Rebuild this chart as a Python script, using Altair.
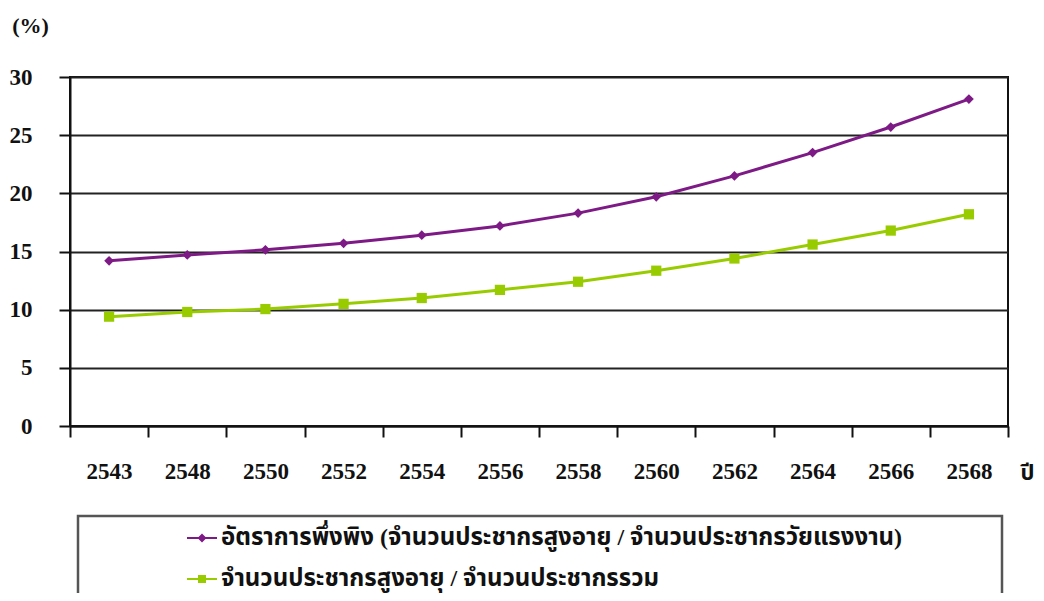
import altair as alt
import pandas as pd

years = ["2543", "2548", "2550", "2552", "2554", "2556", "2558", "2560", "2562", "2564", "2566", "2568"]
dependency_ratio = [14.2, 14.7, 15.15, 15.7, 16.4, 17.2, 18.3, 19.7, 21.5, 23.5, 25.7, 28.1]
elderly_share = [9.4, 9.8, 10.05, 10.5, 11.0, 11.7, 12.4, 13.35, 14.4, 15.6, 16.8, 18.2]

series_names = [
    "อัตราการพึ่งพิง (จำนวนประชากรสูงอายุ / จำนวนประชากรวัยแรงงาน)",
    "จำนวนประชากรสูงอายุ / จำนวนประชากรรวม",
]
series_colors = ["#7E1A86", "#99CC00"]
point_shapes = ["diamond", "square"]
point_sizes = [95, 105]
legend_shapes = [
    "M-1.5,-0.11H1.5V0.11H-1.5Z M0,-0.45L0.45,0L0,0.45L-0.45,0Z",
    "M-1.5,-0.11H1.5V0.11H-1.5Z M-0.4,-0.4H0.4V0.4H-0.4Z",
]

rows = []
for y, a, b in zip(years, dependency_ratio, elderly_share):
    rows.append({"year": y, "series": series_names[0], "value": a})
    rows.append({"year": y, "series": series_names[1], "value": b})
df = pd.DataFrame(rows)

FONT = "Liberation Serif, Noto Sans Thai, Noto Serif Thai, Garuda, Loma, sans-serif"

x_enc = alt.X(
    "year:N",
    sort=years,
    scale=alt.Scale(paddingInner=0, paddingOuter=0),
    axis=alt.Axis(
        title="ปี",
        titleX=957,
        titleY=46,
        titleAlign="center",
        titleBaseline="middle",
        titleFontSize=22,
        titleFont=FONT,
        titleFontWeight="bold",
        titleColor="#111",
        labelAngle=0,
        labelFontSize=23,
        labelFont=FONT,
        labelFontWeight="bold",
        labelColor="#111",
        labelPadding=23,
        labelBaseline="top",
        tickBand="extent",
        tickSize=11,
        tickColor="#111",
        tickWidth=2,
        domainColor="#111",
        domainWidth=2,
        grid=False,
    ),
)
y_enc = alt.Y(
    "value:Q",
    scale=alt.Scale(domain=[0, 30], nice=False),
    axis=alt.Axis(
        title="(%)",
        titleAngle=0,
        titleX=-40,
        titleY=-52,
        titleAlign="center",
        titleBaseline="middle",
        titleFontSize=22,
        titleFont=FONT,
        titleFontWeight="bold",
        titleColor="#111",
        values=[0, 5, 10, 15, 20, 25, 30],
        labelFontSize=23,
        labelFont=FONT,
        labelFontWeight="bold",
        labelColor="#111",
        labelAlign="right",
        labelPadding=27,
        tickSize=11,
        tickColor="#111",
        tickWidth=2,
        domainColor="#111",
        domainWidth=2,
        grid=True,
        gridColor="#222",
        gridWidth=2,
    ),
)

base = alt.Chart(df)

series_layers = []
for name, col, shp, sz in zip(series_names, series_colors, point_shapes, point_sizes):
    sub = base.transform_filter(alt.datum.series == name)
    series_layers.append(
        sub.mark_line(strokeWidth=3, color=col).encode(x=x_enc, y=y_enc)
    )
    series_layers.append(
        sub.mark_point(filled=True, opacity=1, shape=shp, size=sz, color=col).encode(
            x=x_enc, y=y_enc
        )
    )

legend_props = dict(
    title=None,
    orient="none",
    legendX=120,
    legendY=449,
    labelFontSize=24,
    labelFont=FONT,
    labelFontWeight="bold",
    labelColor="#111",
    labelLimit=0,
    labelOffset=7,
    rowPadding=17,
    symbolSize=400,
    symbolOpacity=1,
    symbolStrokeWidth=0,
    padding=0,
)

legend_layer = base.mark_point(filled=True, opacity=0).encode(
    x=x_enc,
    y=y_enc,
    color=alt.Color(
        "series:N",
        scale=alt.Scale(domain=series_names, range=series_colors),
        sort=series_names,
        legend=alt.Legend(**legend_props),
    ),
    shape=alt.Shape(
        "series:N",
        scale=alt.Scale(domain=series_names, range=legend_shapes),
        sort=series_names,
        legend=alt.Legend(**legend_props),
    ),
)

box = alt.Chart(alt.Data(values=[{}])).mark_rect(
    fill="transparent", stroke="#555", strokeWidth=2.5
).encode(
    x=alt.value(8), x2=alt.value(932), y=alt.value(439), y2=alt.value(560)
)

top_rule = alt.Chart(alt.Data(values=[{}])).mark_rule(
    stroke="#bbb", strokeWidth=2
).encode(
    x=alt.value(-70), x2=alt.value(980), y=alt.value(-76)
)

chart = (
    alt.layer(box, top_rule, *series_layers, legend_layer)
    .properties(
        width=938,
        height=349,
        autosize=alt.AutoSizeParams(type="none"),
        padding={"left": 62, "top": 69, "right": 28, "bottom": 167},
        background="white",
    )
    .configure_view(stroke="#111", strokeWidth=2)
)

chart.save("out.html", embed_options={"renderer": "svg", "actions": False})
